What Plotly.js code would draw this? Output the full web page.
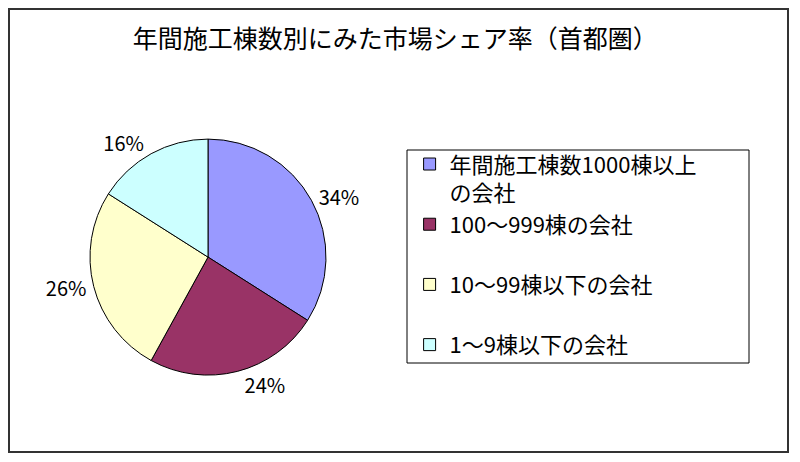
<!DOCTYPE html>
<html>
<head>
<meta charset="utf-8">
<script src="https://cdn.plot.ly/plotly-3.0.1.min.js"></script>
<style>
  body { margin: 0; background: #fff; }
  #chart { width: 800px; height: 462px; }
</style>
</head>
<body>
<div id="chart"></div>
<script>
// 年間施工棟数別にみた市場シェア率（首都圏）
// the trailing blank lines only spread the legend rows like the original
const labels = [
  '年間施工棟数1000棟以上<br>の会社',
  '100〜999棟の会社<br>\u00a0',
  '10〜99棟以下の会社<br>\u00a0',
  '1〜9棟以下の会社'
];
const shares = [34, 24, 26, 16];
const colors = ['#9999ff', '#993366', '#ffffcc', '#ccffff'];

const jp = '"Noto Sans CJK JP", "Noto Sans", sans-serif';

const data = [{
  type: 'pie',
  labels: labels,
  values: shares,
  sort: false,
  direction: 'clockwise',
  rotation: 0,
  textinfo: 'percent',
  textposition: 'outside',
  outsidetextfont: { family: jp, size: 20, color: '#000' },
  marker: { colors: colors, line: { color: '#000', width: 1 } },
  domain: { x: [0.1125, 0.4075], y: [0.188, 0.699] },
  automargin: false,
  hoverinfo: 'percent'
}];

const layout = {
  width: 800,
  height: 462,
  margin: { l: 0, r: 0, t: 0, b: 0 },
  paper_bgcolor: '#fff',
  font: { family: jp, color: '#000' },
  title: {
    text: '年間施工棟数別にみた市場シェア率（首都圏）',
    font: { family: jp, size: 25, color: '#000' },
    x: 0.494, xanchor: 'center',
    y: 0.915, yanchor: 'middle'
  },
  showlegend: true,
  legend: {
    x: 0.512, xanchor: 'left',
    y: 0.69, yanchor: 'top',
    bgcolor: 'rgba(0,0,0,0)',
    borderwidth: 0,
    font: { family: jp, size: 22, color: '#000' },
    valign: 'top'
  },
  shapes: [
    // outer chart frame
    {
      type: 'rect', xref: 'paper', yref: 'paper',
      x0: 9 / 800, x1: 788 / 800, y0: 10 / 462, y1: 453 / 462,
      line: { color: '#333', width: 2 }
    },
    // legend box
    {
      type: 'rect', xref: 'paper', yref: 'paper', layer: 'below',
      x0: 407 / 800, x1: 749 / 800, y0: (462 - 363) / 462, y1: (462 - 150) / 462,
      line: { color: '#000', width: 1 }
    }
  ]
};

Plotly.newPlot('chart', data, layout, { displayModeBar: false, staticPlot: true });
</script>
</body>
</html>
